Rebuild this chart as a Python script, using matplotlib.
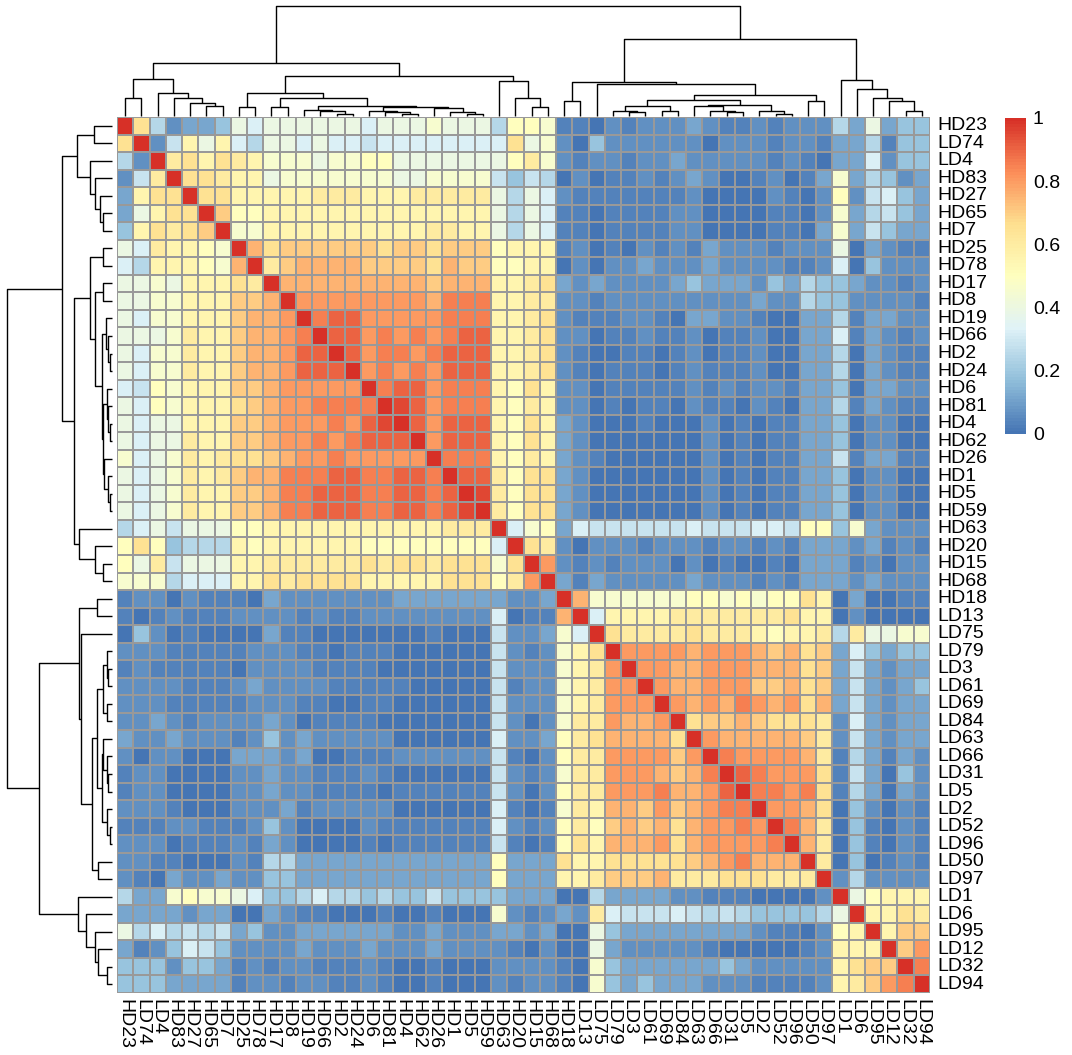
import numpy as np
import matplotlib
matplotlib.use("Agg")
import matplotlib.pyplot as plt
from matplotlib.colors import LinearSegmentedColormap

plt.rcParams["font.family"] = ["Liberation Sans", "DejaVu Sans"]

# Samples in clustered order (same for rows and columns)
labels = ["HD23", "LD74", "LD4", "HD83", "HD27", "HD65", "HD7", "HD25", "HD78", "HD17",
          "HD8", "HD19", "HD66", "HD2", "HD24", "HD6", "HD81", "HD4", "HD62", "HD26",
          "HD1", "HD5", "HD59", "HD63", "HD20", "HD15", "HD68", "HD18", "LD13", "LD75",
          "LD79", "LD3", "LD61", "LD69", "LD84", "LD63", "LD66", "LD31", "LD5", "LD2",
          "LD52", "LD96", "LD50", "LD97", "LD1", "LD6", "LD95", "LD12", "LD32", "LD94"]

# Letter code for correlation levels
level_codes = "abcdefghijklmnopqrstu"
level_values = [0.00, 0.03, 0.06, 0.11, 0.18, 0.24, 0.29, 0.32, 0.39, 0.45, 0.50,
                0.55, 0.60, 0.65, 0.70, 0.75, 0.80, 0.85, 0.90, 0.95, 1.00]

# Correlations, upper triangle: row i holds columns i..49 (letter codes above)
upper_rows = [
    "unfcddeihiiiiiihi" "iijiiifkkjbbacbcc" "cdcbbcbcccfdidee",
    "ucglilhfiihihhgh" "hhhhhhhnijcaecccc" "ccacccbccbddfbee",
    "umnlnmljjjijjkk" "iiiiiiikmjcbccbcc" "dcccccbcbaddhcee",
    "unnmllijjjjjjj" "iijjjjgegfacabbcb" "cdcaabcabdjdfecd",
    "unnlllllmmmll" "lmmmmmifihcbbbbbb" "bcaaaacbackcghed",
    "uokkllllllll" "llllllifihbbabbbb" "ccaaaabbacjdfged",
    "ujjllllllll" "llmmllifihbbabbbb" "ccaaaabbadjdgedd",
    "upnoooooon" "oonoooklllbcabacb" "cbdcccbccciadcbb",
    "umoppppoo" "oonpookkllacaccdc" "ccdccccbbchaeccc",
    "uppppppp" "ppopppllmndcdcccc" "dedddcedfeedccbc",
    "uqqqqqq" "qqprrrllmmccbcccc" "cccccdccfeeccccb",
    "urssqq" "qqqrrrllmncbbbccb" "addccbaaddfbddcc",
    "ussqr" "qrqrssllmnccabbcb" "bcabbcaaddhbdcbc",
    "usqr" "rqrsssllmncbaabba" "bcabbcaaddfadcbb",
    "uqr" "qrqsssllmncbabbba" "bcbbbcaaddfadcbb",
    "ur" "ssqrrrlknlccabbbb" "bcbcbccbddeaddcc",
    "u" "tsqrrrlkmlccababb" "acbbacbaddfbdcbb",
    "usqssslknldcaaaba" "aacababbddeaccaa",
    "uqssslknldcaaaaa" "aacababbddeaccaa",
    "urrrlkmldcbaaaa" "aacababbddgbddbb",
    "ussmknndcaaaaa" "aacababbddeaccaa",
    "utmknndcaaaaa" "aacababbddeaccaa",
    "umknndcaaaaa" "aacababbddeaccaa",
    "uhjkdhggggg" "ghggghhgkkejdccc",
    "unmcacccbc" "ccbccbcbdddcdbcb",
    "uqcbcbccc" "acabaabadddbcacc",
    "udbdcccc" "cdcccbcbdddcdccc",
    "upjjjjj" "jkkjkjkknladaabb",
    "uhllll" "mmmmmmmnllacaaaa",
    "unmmm" "mnmmmlkllmfmiijj",
    "uqqq" "qpqqqpopnodhedee",
    "uqq" "ppqqqpppnodgdcdd",
    "uq" "ppqqqoopnodgdcde",
    "u" "qpqprqpqnpdgdcdd",
    "unooponnnmchdcdd",
    "uqpppppomcgdcdd",
    "urqqqqpmbfdbdc",
    "usrqqqnbgdaec",
    "urrqrnbfdadc",
    "uqqpnaecacb",
    "urpmaebacb",
    "upmaebacb",
    "umaeabcb",
    "ucfcccc",
    "uiklll",
    "ullnm",
    "uloo",
    "uoq",
    "ur",
    "u",
]

n = len(labels)
lookup = dict(zip(level_codes, level_values))
corr = np.zeros((n, n))
for i, row in enumerate(upper_rows):
    assert len(row) == n - i
    for k, ch in enumerate(row):
        corr[i, i + k] = lookup[ch]
        corr[i + k, i] = lookup[ch]

# Hierarchical clustering tree: (left, right, merge height); ints are leaf positions
hd_a = ((0, 1, 0.168), (2, (3, (4, (5, 6, 0.087), 0.114), 0.165), 0.21), 0.335)
hd_c1 = (11, (12, (13, 14, 0.021), 0.042), 0.057)
hd_c2 = (15, (16, (17, 18, 0.021), 0.036), 0.048)
hd_c3 = (19, (20, (21, 22, 0.015), 0.036), 0.072)
hd_core = (hd_c1, (hd_c2, hd_c3, 0.084), 0.093)
hd_b = ((7, 8, 0.081), ((9, 10, 0.081), hd_core, 0.162), 0.207)
hd_c = (23, (24, (25, 26, 0.081), 0.162), 0.314)
left_main = (hd_a, (hd_b, hd_c, 0.36), 0.479)

ld_l1 = (30, (31, 32, 0.036), 0.05)
ld_l2 = (33, 34, 0.05)
ld_l3 = (35, (36, (37, 38, 0.036), 0.05), 0.09)
ld_l4 = (39, (40, 41, 0.02), 0.045)
ld_core = (((ld_l1, ld_l2, 0.087), (ld_l3, ld_l4, 0.1), 0.147), (42, 43, 0.135), 0.19)
ld_a = ((27, 28, 0.14), (29, ld_core, 0.293), 0.311)
ld_b = (44, (45, (46, (47, (48, 49, 0.05), 0.135), 0.165), 0.245), 0.326)
right_main = (ld_a, ld_b, 0.70)
tree = (left_main, right_main, 1.0)

segments = []


def walk(node):
    if isinstance(node, int):
        return node + 0.5, 0.0
    left, right, h = node
    xl, hl = walk(left)
    xr, hr = walk(right)
    segments.append(([xl, xl, xr, xr], [hl, h, h, hr]))
    return (xl + xr) / 2.0, h


walk(tree)

# pheatmap default palette: reversed RdYlBu (7 colours) ramped to 100 steps
palette = ["#4575B4", "#91BFDB", "#E0F3F8", "#FFFFBF", "#FEE090", "#FC8D59", "#D73027"]
cmap = LinearSegmentedColormap.from_list("rdylbu_r", palette, N=100)

W, H = 1072, 1055
fig = plt.figure(figsize=(W / 100, H / 100), dpi=100)


def box(x0, y0, x1, y1):
    return [x0 / W, 1 - y1 / H, (x1 - x0) / W, (y1 - y0) / H]


ax = fig.add_axes(box(117, 117, 930, 993))
ax_top = fig.add_axes(box(117, 6, 930, 116))
ax_left = fig.add_axes(box(7, 117, 112, 993))
ax_cb = fig.add_axes(box(1005, 118, 1026, 434))

fs = 14
edges = np.arange(n + 1)
ax.pcolormesh(edges, edges, corr, cmap=cmap, vmin=0, vmax=1,
              edgecolors="#999999", linewidth=1.1)
ax.set_xlim(0, n)
ax.set_ylim(n, 0)
ax.set_xticks(np.arange(n) + 0.5)
ax.set_xticklabels(labels, rotation=270, ha="center", va="top", fontsize=fs)
ax.yaxis.tick_right()
ax.set_yticks(np.arange(n) + 0.5)
ax.set_yticklabels(labels, fontsize=fs, va="center")
ax.tick_params(axis="both", length=0)
ax.tick_params(axis="x", pad=4)
ax.tick_params(axis="y", pad=5)
for s in ax.spines.values():
    s.set_visible(False)

for xs, hs in segments:
    ax_top.plot(xs, hs, color="black", lw=1.0, clip_on=False, solid_capstyle="butt")
    ax_left.plot(hs, xs, color="black", lw=1.0, clip_on=False, solid_capstyle="butt")
ax_top.set_xlim(0, n)
ax_top.set_ylim(0, 1.0)
ax_top.axis("off")
ax_left.set_ylim(n, 0)
ax_left.set_xlim(1.0, 0)
ax_left.axis("off")

# Colour key
grad = np.linspace(0, 1, 100)[:, None]
ax_cb.imshow(grad, aspect="auto", cmap=cmap, origin="lower", extent=[0, 1, 0, 1],
             vmin=0, vmax=1)
ax_cb.set_xticks([])
ax_cb.yaxis.tick_right()
ticks = [0, 0.2, 0.4, 0.6, 0.8, 1]
ax_cb.set_yticks(ticks)
ax_cb.set_yticklabels(["0", "0.2", "0.4", "0.6", "0.8", "1"], fontsize=fs)
ax_cb.tick_params(axis="y", length=0, pad=5)
for s in ax_cb.spines.values():
    s.set_visible(False)

fig.savefig("out.png", dpi=100, facecolor="white")
